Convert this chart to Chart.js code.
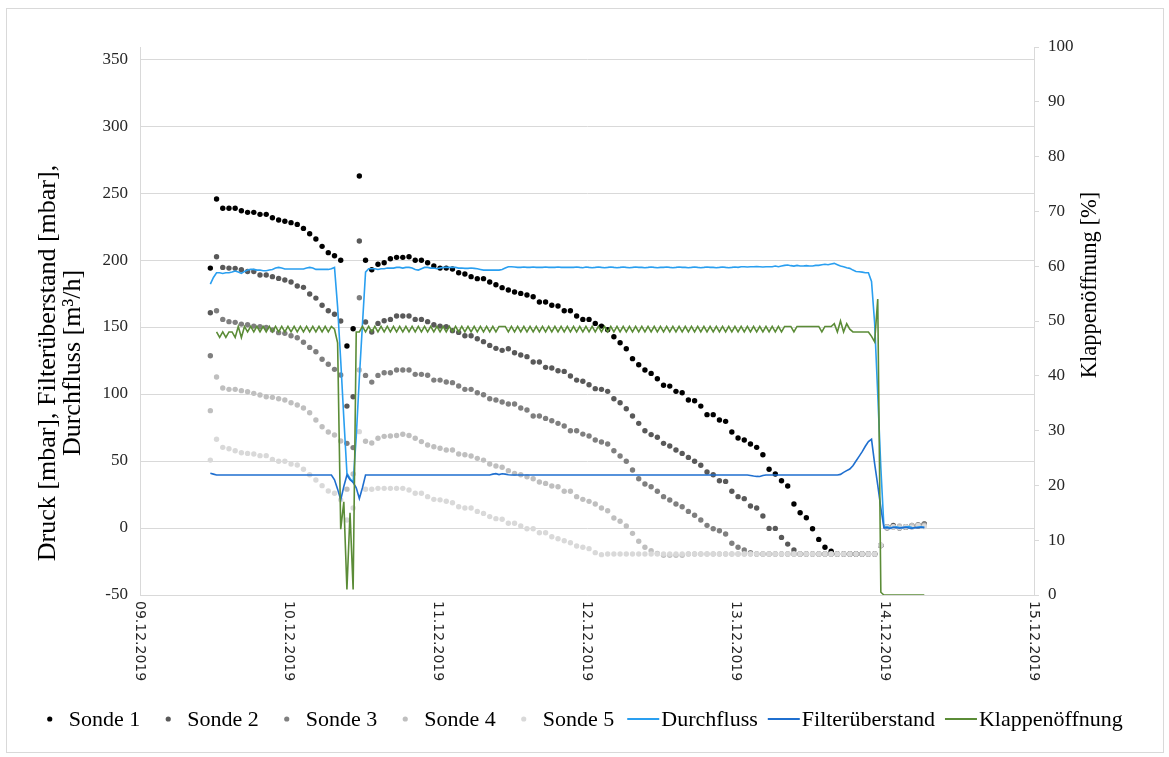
<!DOCTYPE html>
<html>
<head>
<meta charset="utf-8">
<script src="https://cdn.jsdelivr.net/npm/chart.js@4.4.1/dist/chart.umd.min.js"></script>
<style>
  html, body { margin: 0; padding: 0; background: #ffffff; }
  #wrap { position: relative; width: 1169px; height: 757px; }
  #frame { position: absolute; left: 6px; top: 8px; width: 1156px; height: 743px; border: 1px solid #d9d9d9; pointer-events: none; }
</style>
</head>
<body>
<div id="wrap">
  <canvas id="chart" width="1169" height="757"></canvas>
  <div id="frame"></div>
</div>
<script>
// x axis: hours since 09.12.2019 00:00
const dateLabels = ['09.12.2019', '10.12.2019', '11.12.2019', '12.12.2019', '13.12.2019', '14.12.2019', '15.12.2019'];
const leftTicks = [-50, 0, 50, 100, 150, 200, 250, 300, 350];
const leftTitle = ['Druck [mbar], Filterüberstand [mbar],', 'Durchfluss [m³/h]'];
const rightTitle = 'Klappenöffnung [%]';

const sondeStart = 11.33;   // first probe reading 09.12.2019 ~11:20, hourly
const lineStart = 11.33;    // flow / filter / flap logged every 30 min
const lineStep = 0.5;

const sonde1 = [
  194, 245.5, 238.6, 238.6, 238.6, 236.8, 235.6, 235.6, 234.1, 234.1,
  231.6, 229.9, 228.9, 227.9, 226.6, 223.6, 219.6, 215.7, 210.2, 205.5,
  203.2, 199.8, 135.8, 148.7, 262.7, 199.8, 192.8, 196.8, 198, 201,
  202, 202, 202.5, 199.8, 199.8, 198, 195.5, 194, 194, 193.3,
  190.5, 189.6, 187.6, 186.1, 186.1, 183.6, 181.6, 179.4, 177.6, 176.1,
  175.1, 173.9, 172.6, 168.7, 168.7, 166.2, 165.7, 162.2, 162.2, 158.2,
  155.7, 155.7, 152.7, 150.7, 148, 142.8, 138.3, 133.8, 126.4, 121.9,
  117.9, 115.4, 111.4, 106.5, 105.9, 102, 100.9, 95.5, 95, 91,
  84.6, 84.6, 80.6, 79.6, 71.6, 67.2, 65.7, 62.7, 60.2, 54.7,
  43.8, 40.3, 35.3, 31.3, 17.9, 11.4, 7.7, -0.5, -8.5, -14.4,
  -17.4, -19.4, -19.4, -19.4, -19.4, -19.4, -19.4, -19.4, -13, 0.5,
  1, 0, 0.5, 1, 1.5, 2.5
];
const sonde2 = [
  160.7, 202.5, 194.5, 194, 193.8, 192.8, 191.5, 191.5, 188.8, 188.8,
  187.6, 186.3, 185.1, 183.6, 180.6, 179.6, 174.6, 171.6, 166.2, 162.2,
  159.5, 154.5, 91, 98, 214.2, 153.7, 146.3, 152.7, 154.7, 155.7,
  158.2, 158.2, 158.2, 155.7, 155.7, 154, 151.7, 150.7, 150.2, 147.3,
  146, 143.5, 143.5, 141.3, 139.1, 136.3, 134.1, 132.6, 133.8, 130.8,
  129.1, 127.9, 123.9, 123.9, 119.9, 119.4, 117.4, 116.9, 113.4, 110.4,
  109.5, 106.9, 104, 103.5, 102, 96.5, 93.5, 89, 83.6, 78.1,
  72.6, 69.7, 67.7, 63.2, 61.2, 58.2, 55.7, 52.7, 49.8, 46.8,
  41.8, 39.8, 35.3, 34.8, 27.4, 23.4, 21.9, 16.4, 14.9, 9,
  -0.3, -0.3, -7, -12, -16.4, -19.4, -19.4, -19.4, -19.4, -19.4,
  -19.4, -19.4, -19.4, -19.4, -19.4, -19.4, -19.4, -19.4, -13, 1,
  2, 0.5, 1, 1.5, 2, 3
];
const sonde3 = [
  128.6, 162.2, 155.7, 154, 153.5, 152.2, 151.7, 150.7, 150.2, 149.7,
  147.8, 145.8, 145.3, 143.5, 142, 138.6, 134.8, 131.6, 125.9, 122.2,
  118.4, 114.2, 63.2, 60, 171.9, 113.9, 108.9, 113.9, 115.9, 115.9,
  117.9, 117.9, 117.9, 114.7, 114.7, 114, 110.4, 110.4, 109, 108.5,
  106, 103.5, 103.5, 101, 99.5, 96.5, 95.5, 94, 92.5, 92.5,
  89.6, 88.1, 83.6, 83.6, 81.8, 80.1, 78.1, 76.1, 72.6, 72.6,
  70.1, 68.7, 65.7, 64.2, 62.7, 57.7, 53.7, 49.8, 43.3, 36.8,
  32.8, 30.8, 27.4, 23.4, 20.9, 17.9, 15.9, 12.4, 9.5, 6,
  2, -0.5, -2, -4.5, -11.4, -14.4, -16.4, -18.4, -19.4, -19.4,
  -19.4, -19.4, -19.4, -19.4, -19.4, -19.4, -19.4, -19.4, -19.4, -19.4,
  -19.4, -19.4, -19.4, -19.4, -19.4, -19.4, -19.4, -19.4, -13, 0,
  1, 0.5, 1, 2, 2.5, 3
];
const sonde4 = [
  87.6, 112.7, 104.5, 103.5, 103.5, 102.5, 101.7, 100.5, 99.3, 98,
  97.5, 96.5, 95.5, 93.5, 91.8, 89.6, 86, 80.6, 75.6, 71.6,
  69.4, 64.9, 29, 40.3, 117.9, 64.7, 63.5, 67, 68.4, 68.7,
  69, 70, 69, 67, 64.5, 61.9, 60.7, 59.5, 58.2, 58.2,
  55.2, 54.7, 53.7, 52, 50.7, 47.8, 46.3, 45.3, 42.8, 40.8,
  39.8, 38.3, 36.8, 34.3, 33.3, 31.3, 30.8, 27.4, 27.4, 23.4,
  21.4, 19.9, 17.9, 14.9, 12.9, 7.5, 5, 1.5, -4, -9.9,
  -14.4, -16.9, -18.9, -20.4, -20.4, -20.4, -20.4, -19.4, -19.4, -19.4,
  -19.4, -19.4, -19.4, -19.4, -19.4, -19.4, -19.4, -19.4, -19.4, -19.4,
  -19.4, -19.4, -19.4, -19.4, -19.4, -19.4, -19.4, -19.4, -19.4, -19.4,
  -19.4, -19.4, -19.4, -19.4, -19.4, -19.4, -19.4, -19.4, -13, 1,
  0.5, 1.5, 0.5, 2, 1.5, 2
];
const sonde5 = [
  50.7, 66.2, 60.2, 59.2, 57.7, 56.2, 55.7, 55.2, 54, 54,
  51.2, 49.8, 49.8, 47.8, 47, 43.8, 39.8, 35.8, 31.6, 27.6,
  25.9, 21, 6, 15, 71.9, 28.9, 28.9, 29.6, 29.6, 29.6,
  29.6, 29.6, 28.4, 25.9, 25.9, 23.4, 21.4, 21, 20, 18.9,
  15.9, 14.9, 14.9, 12.4, 10.9, 8.5, 7, 6.5, 3.5, 3.5,
  1.5, -0.5, -0.5, -3.5, -3.5, -6.5, -8, -9.5, -11, -13.4,
  -14.4, -15.4, -18.4, -19.9, -19.4, -19.4, -19.4, -19.4, -19.4, -19.4,
  -19.4, -19.4, -19.4, -19.4, -19.4, -19.4, -19.4, -19.4, -19.4, -19.4,
  -19.4, -19.4, -19.4, -19.4, -19.4, -19.4, -19.4, -19.4, -19.4, -19.4,
  -19.4, -19.4, -19.4, -19.4, -19.4, -19.4, -19.4, -19.4, -19.4, -19.4,
  -19.4, -19.4, -19.4, -19.4, -19.4, -19.4, -19.4, -19.4, -12.7, 0.5,
  1, 0, 1, 0.5, 2, 1
];

const durchfluss = [
  182, 187, 190.5, 190.5, 190, 190.5, 190.5, 191, 191.8, 191,
  190, 191.5, 192.5, 193, 193, 192.5, 192.5, 192, 192, 192.5,
  193, 194, 194.5, 194, 193.3, 193.3, 193.3, 193.3, 193.3, 193.3,
  193.3, 194, 194.5, 194, 193, 193, 193, 193, 193, 193.5,
  194.5, 165, 125, 82, 41, 37, 34, 68, 112, 152,
  191, 193.5, 193.5, 193.5, 193, 193.5, 193.5, 194, 194, 194,
  194.5, 194.5, 194, 194.5, 194.5, 194, 193, 192.5, 193.5, 194.5,
  194.5, 194, 194, 193.5, 194, 194.5, 194.5, 194.5, 194.5, 194.5,
  194, 194, 193.8, 193.8, 194, 193.8, 193.5, 193, 192.5, 192.5,
  192.5, 192.5, 192.5, 192.5, 193, 194, 195, 195, 194.8, 194.5,
  194.5, 194.8, 194.5, 194.5, 194.8, 194.5, 194.5, 194.5, 194.8, 194.5,
  194.5, 194.5, 194.8, 194.5, 194.5, 194.5, 194.5, 194.5, 194.8, 194.5,
  194.3, 194.8, 194.5, 194.3, 194.5, 194.8, 194.5, 194.3, 194.5, 194.8,
  194.5, 194.3, 194.5, 194.8, 194.5, 194.3, 194.5, 194.8, 194.5, 194.5,
  194.3, 194.5, 194.8, 194.5, 194.3, 194.5, 194.5, 194.8, 194.5, 194.3,
  194.5, 194.8, 194.5, 194.5, 194.3, 194.5, 194.8, 194.5, 194.3, 194.5,
  194.8, 194.5, 194.5, 194.3, 194.5, 194.8, 194.5, 194.3, 194.5, 194.8,
  194.5, 195, 195, 194.8, 195, 195, 195.2, 195, 194.8, 195,
  195, 195, 195.5, 195, 195.5, 196, 196.3, 195.8, 195.5, 196,
  195.5, 195.5, 195.8, 195.5, 195.5, 196, 196, 196.5, 196.8, 196.5,
  197, 197.5, 196.5, 195.5, 195, 194.3, 193.8, 192.5, 191.5, 191.3,
  191, 190.5, 190.5, 184, 153, 100, 45, 0.5, 0.8, 0.2,
  0.6, 0.9, 0.4, 0.3, 0.8, 1.0, 0.4, 0.2, 0.7, 0.9,
  0.5
];
const filterueberstand = [
  40.8, 40.2, 39.6, 39.6, 39.6, 39.6, 39.6, 39.6, 39.6, 39.6,
  39.6, 39.6, 39.6, 39.6, 39.6, 39.6, 39.6, 39.6, 39.6, 39.6,
  39.6, 39.6, 39.6, 39.6, 39.6, 39.6, 39.6, 39.6, 39.6, 39.6,
  39.6, 39.6, 39.6, 39.6, 39.6, 39.6, 39.6, 39.6, 39.6, 39.6,
  36, 29, 21, 31, 39.6, 36, 34, 30, 22, 30,
  39.6, 39.6, 39.6, 39.6, 39.6, 39.6, 39.6, 39.6, 39.6, 39.6,
  39.6, 39.6, 39.6, 39.6, 39.6, 39.6, 39.6, 39.6, 39.6, 39.6,
  39.6, 39.6, 39.6, 39.6, 39.6, 39.6, 39.6, 39.6, 39.6, 39.6,
  39.6, 39.6, 39.6, 39.6, 39.6, 39.6, 39.6, 39.6, 39.6, 39.6,
  39.6, 40.2, 40.6, 39.9, 40.5, 40.2, 39.8, 39.6, 39.6, 39.6,
  39.6, 39.6, 39.6, 39.6, 39.6, 39.6, 39.6, 39.6, 39.6, 39.6,
  39.6, 39.6, 39.6, 39.6, 39.6, 39.6, 39.6, 39.6, 39.6, 39.6,
  39.6, 39.6, 39.6, 39.6, 39.6, 39.6, 39.6, 39.6, 39.6, 39.6,
  39.6, 39.6, 39.6, 39.6, 39.6, 39.6, 39.6, 39.6, 39.6, 39.6,
  39.6, 39.6, 39.6, 39.6, 39.6, 39.6, 39.6, 39.6, 39.6, 39.6,
  39.6, 39.6, 39.6, 39.6, 39.6, 39.6, 39.6, 39.6, 39.6, 39.6,
  39.6, 39.6, 39.6, 39.6, 39.6, 39.6, 39.6, 39.6, 39.6, 39.6,
  39.6, 39.6, 39.6, 39.6, 39.2, 38.8, 38.5, 38.4, 39.2, 39.6,
  39.6, 39.6, 39.6, 39.6, 39.6, 39.6, 39.6, 39.6, 39.6, 39.6,
  39.6, 39.6, 39.6, 39.6, 39.6, 39.6, 39.6, 39.6, 39.6, 39.6,
  39.6, 39.6, 39.6, 40, 41.5, 42.8, 44, 46.5, 50, 53.5,
  57, 61, 64.5, 66.2, 48, 32, 15, 0, 0.2, -0.3,
  0.5, 0.2, -0.2, 0.3, 0.5, 0, -0.3, 0.4, 0.2, 0.6,
  0.3
];
const klappenoeffnung = [
  null, null, 48, 47, 48, 47, 48, 48, 47, 49,
  47, 49, 48, 49, 48, 49, 48, 49, 48, 49,
  48, 49, 48, 49, 48, 49, 48, 49, 48, 49,
  48, 49, 48, 49, 48, 49, 48, 49, 48, 49,
  48.5, 46, 12, 17, 1, 15, 1, 48, 48, 49,
  48, 49, 48, 49, 48, 49, 48, 49, 48, 49,
  48, 49, 48, 49, 48, 49, 48, 49, 48, 49,
  48, 49, 48, 49, 48, 49, 48, 49, 48, 49,
  48, 49, 48, 49, 48, 49, 48, 49, 48, 49,
  48, 49, 48, 49, 49, 49, 48, 49, 48, 49,
  48, 49, 48, 49, 48, 49, 48, 49, 48, 49,
  48, 49, 48, 49, 48, 49, 48, 49, 48, 49,
  48, 49, 48, 49, 48, 49, 48, 49, 48, 49,
  48, 49, 48, 49, 48, 49, 48, 49, 48, 49,
  48, 49, 48, 49, 48, 49, 48, 49, 48, 49,
  48, 49, 48, 49, 48, 49, 48, 49, 48, 49,
  48, 49, 48, 49, 48, 49, 48, 49, 48, 49,
  48, 49, 48, 49, 48, 49, 48, 49, 48, 49,
  48, 49, 48, 49, 48, 49, 49, 49, 48, 49,
  49, 49, 49, 49, 49, 49, 49, 48, 49, 49,
  49, 49.5, 48, 50, 48, 49.5, 48.5, 48, 48, 48,
  48, 48, 48, 47.2, 46.2, 54, 0.5, 0, 0, 0,
  0, 0, 0, 0, 0, 0, 0, 0, 0, 0,
  0
];

const sondeNames = ['Sonde 1', 'Sonde 2', 'Sonde 3', 'Sonde 4', 'Sonde 5'];
const sondeColors = ['#000000', '#595959', '#7f7f7f', '#bfbfbf', '#d9d9d9'];
const sondeValues = [sonde1, sonde2, sonde3, sonde4, sonde5];

const serif = '"Liberation Serif", "Times New Roman", serif';

function toPoints(values, start, step) {
  return values.map((v, i) => ({ x: start + i * step, y: v }));
}

const datasets = sondeValues.map((vals, i) => ({
  label: sondeNames[i],
  data: toPoints(vals, sondeStart, 1),
  yAxisID: 'y',
  showLine: false,
  pointRadius: 2.7,
  pointBorderWidth: 0,
  pointBackgroundColor: sondeColors[i],
  borderColor: sondeColors[i],
  backgroundColor: sondeColors[i],
  order: 7 - i
}));

datasets.push({
  label: 'Durchfluss',
  data: toPoints(durchfluss, lineStart, lineStep),
  yAxisID: 'y',
  borderColor: '#2a9ff0',
  borderWidth: 1.6,
  pointRadius: 0,
  tension: 0,
  order: 2
});
datasets.push({
  label: 'Filterüberstand',
  data: toPoints(filterueberstand, lineStart, lineStep),
  yAxisID: 'y',
  borderColor: '#1f6fcf',
  borderWidth: 1.6,
  pointRadius: 0,
  tension: 0,
  order: 1
});
datasets.push({
  label: 'Klappenöffnung',
  data: toPoints(klappenoeffnung, lineStart, lineStep),
  yAxisID: 'y1',
  borderColor: '#5b8c37',
  borderWidth: 1.6,
  pointRadius: 0,
  tension: 0,
  order: 0
});

// rotated date labels (top to bottom), axis titles and the legend row
const decorations = {
  id: 'decorations',
  afterDraw(chart) {
    const ctx = chart.ctx;
    const xs = chart.scales.x;
    const area = chart.chartArea;

    ctx.save();
    ctx.fillStyle = '#262626';
    ctx.font = '14px "DejaVu Sans", sans-serif';
    ctx.textAlign = 'left';
    ctx.textBaseline = 'middle';
    xs.ticks.forEach(t => {
      const x = xs.getPixelForValue(t.value);
      ctx.save();
      ctx.translate(x, area.bottom + 6);
      ctx.rotate(Math.PI / 2);
      ctx.fillText(dateLabels[Math.round(t.value / 24)], 0, 0);
      ctx.restore();
    });
    ctx.restore();

    ctx.save();
    ctx.fillStyle = '#000000';
    ctx.textAlign = 'center';
    ctx.textBaseline = 'middle';
    ctx.font = '26px ' + serif;
    ctx.translate(48, 363);
    ctx.rotate(-Math.PI / 2);
    ctx.fillText(leftTitle[0], 0, 0);
    ctx.fillText(leftTitle[1], 0, 25);
    ctx.restore();

    ctx.save();
    ctx.fillStyle = '#000000';
    ctx.textAlign = 'center';
    ctx.textBaseline = 'middle';
    ctx.font = '22.5px ' + serif;
    ctx.translate(1090, 285);
    ctx.rotate(-Math.PI / 2);
    ctx.fillText(rightTitle, 0, 0);
    ctx.restore();

    // legend
    ctx.save();
    ctx.font = '22px ' + serif;
    ctx.textBaseline = 'middle';
    ctx.textAlign = 'left';
    const items = chart.data.datasets.map(ds => {
      const isLine = ds.showLine !== false;
      const tw = ctx.measureText(ds.label).width;
      const lead = isLine ? 34 : 21.5;
      return { label: ds.label, color: ds.borderColor, isLine, lead, w: lead + tw };
    });
    const gapAfter = (i) => items[i].isLine ? 10 : (items[i + 1].isLine ? 13 : 25.5);
    let total = 0;
    items.forEach((it, i) => {
      total += it.w;
      if (i < items.length - 1) total += gapAfter(i);
    });
    let x = 585 - total / 2;
    const y = 719;
    items.forEach((it, i) => {
      if (it.isLine) {
        ctx.strokeStyle = it.color;
        ctx.lineWidth = 2;
        ctx.beginPath();
        ctx.moveTo(x, y);
        ctx.lineTo(x + 32, y);
        ctx.stroke();
      } else {
        ctx.fillStyle = it.color;
        ctx.beginPath();
        ctx.arc(x + 2.5, y, 2.6, 0, Math.PI * 2);
        ctx.fill();
      }
      ctx.fillStyle = '#000000';
      ctx.fillText(it.label, x + it.lead, y + 1);
      x += it.w;
      if (i < items.length - 1) x += gapAfter(i);
    });
    ctx.restore();
  }
};

const ctx = document.getElementById('chart').getContext('2d');
const chart = new Chart(ctx, {
  type: 'line',
  data: { datasets },
  options: {
    responsive: false,
    devicePixelRatio: 1,
    animation: false,
    layout: { padding: { top: 47, left: 0, right: 0, bottom: 0 } },
    plugins: {
      legend: { display: false },
      tooltip: { enabled: false }
    },
    scales: {
      x: {
        type: 'linear',
        min: 0,
        max: 144,
        ticks: { stepSize: 24, display: false },
        grid: { display: false },
        border: { display: true, color: '#d9d9d9', width: 1 },
        afterFit: s => { s.height = 162; }
      },
      y: {
        type: 'linear',
        position: 'left',
        min: -50,
        max: 359,
        afterBuildTicks: s => { s.ticks = leftTicks.map(v => ({ value: v })); },
        ticks: { color: '#262626', font: { family: serif, size: 17 }, padding: 12 },
        grid: { color: '#d9d9d9', lineWidth: 1, drawTicks: false },
        border: { display: true, color: '#d9d9d9', width: 1 },
        afterFit: s => { s.width = 140; }
      },
      y1: {
        type: 'linear',
        position: 'right',
        min: 0,
        max: 100,
        ticks: { stepSize: 10, color: '#262626', font: { family: serif, size: 17 }, padding: 9 },
        grid: { drawOnChartArea: false, drawTicks: true, tickLength: 5, color: '#d9d9d9' },
        border: { display: true, color: '#d9d9d9', width: 1 },
        afterFit: s => { s.width = 135; }
      }
    }
  },
  plugins: [decorations]
});
</script>
</body>
</html>
